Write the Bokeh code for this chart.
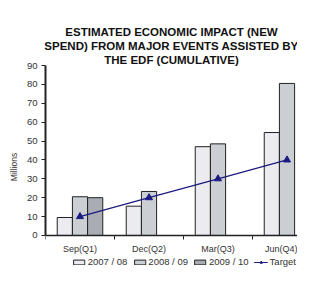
from bokeh.plotting import figure
from bokeh.models import Range1d, FixedTicker, Title, Legend, LegendItem, ColumnDataSource
from bokeh.embed import file_html
from bokeh.resources import INLINE

quarters = ["Sep(Q1)", "Dec(Q2)", "Mar(Q3)", "Jun(Q4)"]
series_names = ["2007 / 08", "2008 / 09", "2009 / 10"]
v2007 = [9.5, 15.5, 47, 54.5]
v2008 = [20.5, 23.3, 48.5, 80.5]
v2009 = [20, None, None, None]
target = [10, 20, 30, 40]
y_ticks = [0, 10, 20, 30, 40, 50, 60, 70, 80, 90]

FONT = "Liberation Sans"

p = figure(width=297, height=268, output_backend="svg", toolbar_location=None,
           x_range=Range1d(0, 3.652), y_range=Range1d(-17.5, 90),
           min_border_left=45, min_border_right=0, min_border_top=65, min_border_bottom=0)
p.outline_line_color = None
p.background_fill_color = "white"
p.border_fill_color = "white"

bar_w = 0.22
colors = ["#EBEBF0", "#CBCED3", "#A9ADB3"]
centers = [i + 0.5 for i in range(len(quarters))]
renderers = []
for k, vals in enumerate([v2007, v2008, v2009]):
    xs, tops = [], []
    for i, v in enumerate(vals):
        if v is not None:
            xs.append(centers[i] + (k - 1) * bar_w)
            tops.append(v)
    src = ColumnDataSource(dict(x=xs, top=tops))
    r = p.vbar(x="x", top="top", width=bar_w, bottom=0, source=src,
               fill_color=colors[k], line_color="#222222", line_width=1)
    renderers.append(r)

tsrc = ColumnDataSource(dict(x=centers, y=target))
lr = p.line("x", "y", source=tsrc, line_color="#1A1A80", line_width=1.2)
mr = p.scatter("x", "y", source=tsrc, marker="triangle", size=7,
               fill_color="#1A1A80", line_color="#1A1A80")

# x axis pinned at y = 0 inside the frame
p.xaxis.fixed_location = 0
p.xaxis.ticker = FixedTicker(ticks=centers, minor_ticks=[0, 1, 2, 3, 4])
p.xaxis.major_label_overrides = {c: q for c, q in zip(centers, quarters)}
p.xaxis.major_tick_line_color = None
p.xaxis.minor_tick_line_color = "#222222"
p.xaxis.minor_tick_in = 0
p.xaxis.minor_tick_out = 4
p.xaxis.axis_line_color = "#222222"
p.xaxis.axis_line_width = 1.5
p.xaxis.major_label_text_font = FONT
p.xaxis.major_label_text_font_size = "9px"
p.xaxis.major_label_text_color = "#333333"
p.xaxis.major_label_standoff = 3

p.yaxis.ticker = FixedTicker(ticks=y_ticks)
p.yaxis.bounds = (0, 90)
p.yaxis.minor_tick_line_color = None
p.yaxis.major_tick_in = 0
p.yaxis.major_tick_out = 4
p.yaxis.major_tick_line_color = "#222222"
p.yaxis.axis_line_color = "#222222"
p.yaxis.axis_line_width = 2
p.yaxis.major_label_text_font = FONT
p.yaxis.major_label_text_font_size = "9.5px"
p.yaxis.major_label_text_color = "#333333"
p.yaxis.major_label_standoff = 4
p.yaxis.axis_label = "Millions"
p.yaxis.axis_label_text_font = FONT
p.yaxis.axis_label_text_font_size = "8.5px"
p.yaxis.axis_label_text_font_style = "normal"
p.yaxis.axis_label_text_color = "#333333"
p.yaxis.axis_label_standoff = 5

p.xgrid.grid_line_color = None
p.ygrid.ticker = FixedTicker(ticks=[90])
p.ygrid.grid_line_color = "#777777"
p.ygrid.grid_line_width = 1.2

# title lines (added inner-first)
title_lines = ["ESTIMATED ECONOMIC IMPACT (NEW", "SPEND) FROM MAJOR EVENTS ASSISTED BY",
               "THE EDF (CUMULATIVE)"]
for line in reversed(title_lines):
    t = Title(text=line, align="center", text_font=FONT, text_font_size="11.5px",
              text_font_style="bold", text_color="#111111", standoff=0)
    p.add_layout(t, "above")

items = [LegendItem(label=series_names[k], renderers=[renderers[k]]) for k in range(3)]
items.append(LegendItem(label="Target", renderers=[lr, mr]))
legend = Legend(items=items, orientation="horizontal", location="bottom_right",
                glyph_width=14, glyph_height=6, label_standoff=2, spacing=5,
                padding=0, margin=1, border_line_color=None, background_fill_alpha=0,
                label_text_font=FONT, label_text_font_size="9.5px",
                label_text_color="#333333", label_height=9)
p.add_layout(legend, "center")

open("out.html", "w").write(file_html(p, INLINE))
